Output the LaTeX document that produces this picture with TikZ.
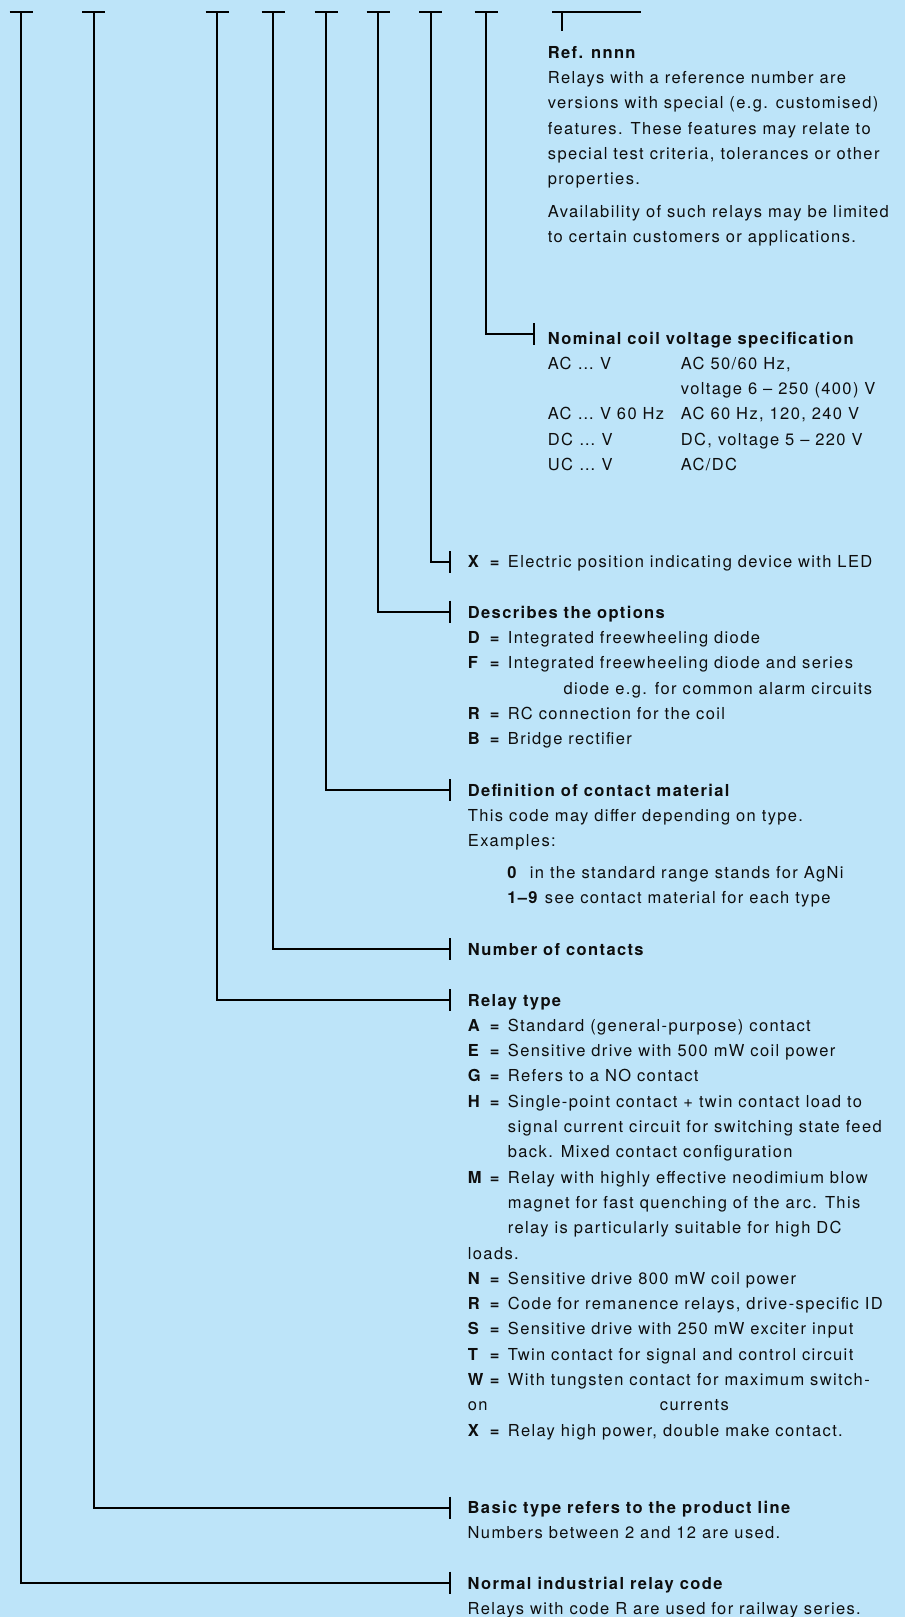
\documentclass[tikz,border=0pt]{standalone}
\usepackage{fontspec}
\setmainfont{TeX Gyre Heros}[LetterSpace=8.3]
\definecolor{chartblue}{RGB}{189,228,249}
\definecolor{inkgray}{RGB}{14,14,14}
\tikzset{
  lead/.style={line width=2bp, black},
  note/.style={anchor=base west, inner sep=0pt, text=inkgray,
    font=\fontsize{16.5bp}{25.3bp}\selectfont},
}
\newcommand\keyeq[1]{\makebox[22bp][l]{\textbf{#1}}\makebox[18bp][l]{\textbf{=}}}

\begin{document}
\begin{tikzpicture}[x=1bp,y=-1bp]
  \def\barw{11.5}
  \def\tickh{11}
  \def\indent{40}

  % Background
  \fill[chartblue] (0,0) rectangle (905,1617);
  \useasboundingbox (0,0) rectangle (905,1617);

  % Texts
  \node[note] (ref) at (547.7,58.3) {\begin{tabular}[t]{@{}l@{}}
    \textbf{Ref. nnnn}\\
    Relays with a reference number are\\
    versions with special (e.g. customised)\\
    features. These features may relate to\\
    special test criteria, tolerances or other\\
    properties.\\[7.4bp]
    Availability of such relays may be limited\\
    to certain customers or applications.
  \end{tabular}};

  \node[note] (coil) at (547.7,344) {\begin{tabular}[t]{@{}p{133bp}@{}l@{}}
    \multicolumn{2}{@{}l@{}}{\textbf{Nominal coil voltage specification}}\\
    AC … V & AC 50/60 Hz,\\
           & voltage 6 – 250 (400) V\\
    AC … V 60 Hz & AC 60 Hz, 120, 240 V\\
    DC … V & DC, voltage 5 – 220 V\\
    UC … V & AC/DC
  \end{tabular}};

  \node[note] (led) at (467.7,567.3) {\keyeq{X}Electric position indicating device with LED};

  \node[note] (options) at (467.7,618.3) {\begin{tabular}[t]{@{}l@{}}
    \textbf{Describes the options}\\
    \keyeq{D}Integrated freewheeling diode\\
    \keyeq{F}Integrated freewheeling diode and series\\
    \hspace*{95.6bp}diode e.g. for common alarm circuits\\
    \keyeq{R}RC connection for the coil\\
    \keyeq{B}Bridge rectifier
  \end{tabular}};

  \node[note] (material) at (467.7,796) {\begin{tabular}[t]{@{}l@{}}
    \textbf{Definition of contact material}\\
    This code may differ depending on type.\\
    Examples:\\[6.6bp]
    \hspace*{39.5bp}\textbf{0}\ \ in the standard range stands for AgNi\\
    \hspace*{39.5bp}\textbf{1–9} see contact material for each type
  \end{tabular}};

  \node[note] (contacts) at (467.7,955) {\textbf{Number of contacts}};

  \node[note] (reltype) at (467.7,1006) {\begin{tabular}[t]{@{}l@{}}
    \textbf{Relay type}\\
    \keyeq{A}Standard (general-purpose) contact\\
    \keyeq{E}Sensitive drive with 500 mW coil power\\
    \keyeq{G}Refers to a NO contact\\
    \keyeq{H}Single-point contact + twin contact load to\\
    \hspace*{\indent bp}signal current circuit for switching state feed\\
    \hspace*{\indent bp}back. Mixed contact configuration\\
    \keyeq{M}Relay with highly effective neodimium blow\\
    \hspace*{\indent bp}magnet for fast quenching of the arc. This\\
    \hspace*{\indent bp}relay is particularly suitable for high DC\\
    loads.\\
    \keyeq{N}Sensitive drive 800 mW coil power\\
    \keyeq{R}Code for remanence relays, drive-specific ID\\
    \keyeq{S}Sensitive drive with 250 mW exciter input\\
    \keyeq{T}Twin contact for signal and control circuit\\
    \keyeq{W}With tungsten contact for maximum switch-\\
    \makebox[192bp][l]{on}currents\\
    \keyeq{X}Relay high power, double make contact.
  \end{tabular}};

  \node[note] (basic) at (467.5,1513.3) {\begin{tabular}[t]{@{}l@{}}
    \textbf{Basic type refers to the product line}\\
    Numbers between 2 and 12 are used.
  \end{tabular}};

  \node[note] (code) at (467.5,1589.3) {\begin{tabular}[t]{@{}l@{}}
    \textbf{Normal industrial relay code}\\
    Relays with code R are used for railway series.
  \end{tabular}};

  % Leads
  \foreach \name/\sx/\ex/\ey in {coil/486/534/334, led/430.7/450/562.3,
      options/378/450/611.7, material/326/450/790, contacts/273/450/949.3,
      reltype/217/450/1000, basic/93.6/450/1507.7, code/21.2/450/1582.7} {
    \coordinate (top-\name) at (\sx,12);
    \coordinate (end-\name) at (\ex,\ey);
    \draw[lead] ([xshift=-\barw bp]top-\name) -- ([xshift=\barw bp]top-\name);
    \draw[lead] (top-\name) |- (end-\name);
    \draw[lead] ([yshift=\tickh bp]end-\name) -- ([yshift=-\tickh bp]end-\name);
  }

  % Ref lead
  \coordinate (top-ref) at (562,12);
  \coordinate (end-ref) at (562,31.5);
  \draw[lead] ([xshift=-10bp]top-ref) -- ([xshift=79bp]top-ref);
  \draw[lead] (top-ref) -- (end-ref);
\end{tikzpicture}
\end{document}
